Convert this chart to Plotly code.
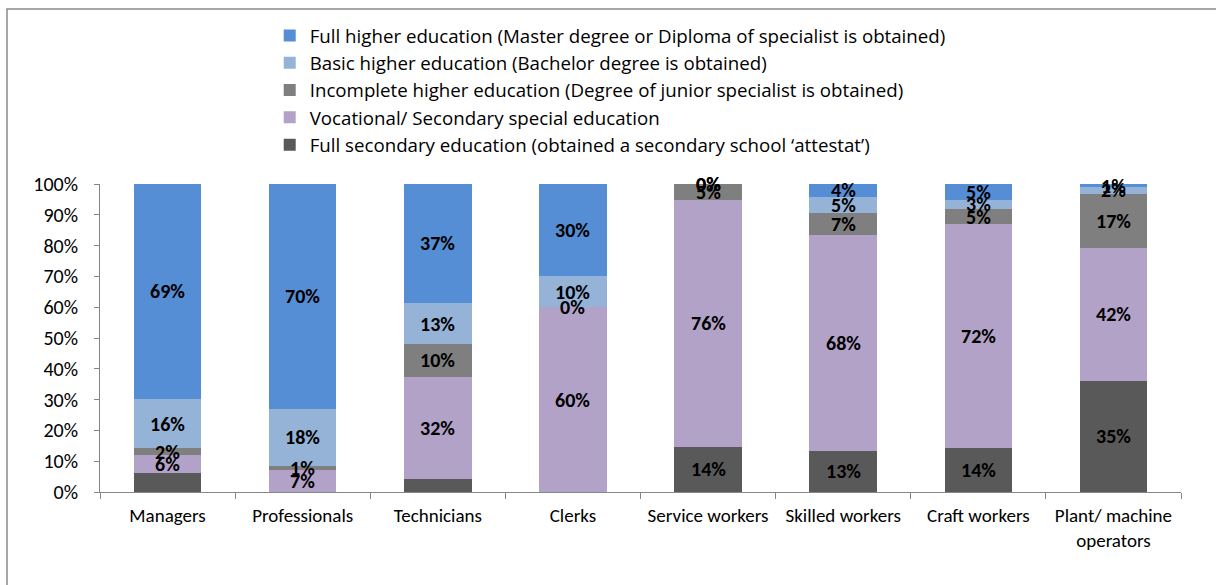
import plotly.graph_objects as go

# Occupational groups on the x axis
categories = ["Managers", "Professionals", "Technicians", "Clerks",
              "Service workers", "Skilled workers", "Craft workers",
              "Plant/ machine<br>operators"]

# Share of each education level per group (%), stacked bottom to top
full_secondary = [6, 0, 4, 0, 14, 13, 14, 35]
vocational = [6, 7, 32, 60, 76, 68, 72, 42]
incomplete_higher = [2, 1, 10, 0, 5, 7, 5, 17]
basic_higher = [16, 18, 13, 10, 0, 5, 3, 2]
full_higher = [69, 70, 37, 30, 0, 4, 5, 1]

# Which segments carry a value label
show_secondary_label = [False, False, False, False, True, True, True, True]
show_vocational_label = [True] * 8
show_incomplete_label = [True] * 8
show_basic_label = [True] * 8
show_full_label = [True] * 8

series = [
    ("Full secondary education (obtained a secondary school ‘attestat’)",
     full_secondary, "#595959", show_secondary_label),
    ("Vocational/ Secondary special education",
     vocational, "#B3A2C7", show_vocational_label),
    ("Incomplete higher education (Degree of junior specialist is obtained)",
     incomplete_higher, "#7F7F7F", show_incomplete_label),
    ("Basic higher education (Bachelor degree is obtained)",
     basic_higher, "#95B3D7", show_basic_label),
    ("Full higher education (Master degree or Diploma of specialist is obtained)",
     full_higher, "#558ED5", show_full_label),
]

FONT = "Carlito, Lato, 'Liberation Sans', sans-serif"
LEGEND_FONT = "'Open Sans', Lato, sans-serif"

fig = go.Figure()
for name, vals, color, _ in series:
    fig.add_trace(go.Bar(
        x=categories, y=vals, name=name,
        marker=dict(color=color, line=dict(width=0)),
        hoverinfo="skip",
    ))

# Value labels centred in each normalised segment
totals = [sum(s[1][i] for s in series) for i in range(len(categories))]
annotations = []
for i, cat in enumerate(categories):
    cum = 0
    for name, vals, color, show in series:
        v = vals[i]
        mid = (cum + v / 2) / totals[i] * 100
        cum += v
        if show[i]:
            annotations.append(dict(
                x=cat, y=mid, xref="x", yref="y", text=f"<b>{v}%</b>",
                showarrow=False, font=dict(family=FONT, size=20, color="#000000"),
            ))

fig.update_layout(
    barmode="stack",
    barnorm="percent",
    bargap=0.5,
    width=1216, height=585,
    margin=dict(l=100, r=35, t=184, b=93),
    paper_bgcolor="white", plot_bgcolor="white",
    font=dict(family=FONT, size=19, color="#000000"),
    showlegend=True,
    legend=dict(
        x=0.157, y=1.543, xanchor="left", yanchor="top",
        traceorder="reversed", tracegroupgap=0,
        font=dict(family=LEGEND_FONT, size=18.7, color="#000000"),
        itemwidth=30, bgcolor="rgba(0,0,0,0)",
    ),
    xaxis=dict(
        showline=True, linecolor="#868686", linewidth=1,
        ticks="outside", tickson="boundaries", ticklen=6, tickcolor="#868686",
        tickfont=dict(family=FONT, size=19),
        ticklabelstandoff=6,
        showgrid=False,
    ),
    yaxis=dict(
        range=[0, 100], tickvals=list(range(0, 101, 10)),
        ticktext=[f"{t}%" for t in range(0, 101, 10)],
        showline=True, linecolor="#868686", linewidth=1,
        ticks="outside", ticklen=5, tickcolor="#868686",
        tickfont=dict(family=FONT, size=20),
        ticklabelstandoff=12,
        showgrid=False, zeroline=False,
    ),
    annotations=annotations,
    shapes=[dict(
        type="rect", xref="paper", yref="paper",
        x0=(7 - 100) / 1081, x1=(1225 - 100) / 1081,
        y0=(492 - 600) / 308, y1=(492 - 9) / 308,
        line=dict(color="#8C8C8C", width=1.5), fillcolor="rgba(0,0,0,0)",
        layer="below",
    )],
)

fig.write_html("out.html")
